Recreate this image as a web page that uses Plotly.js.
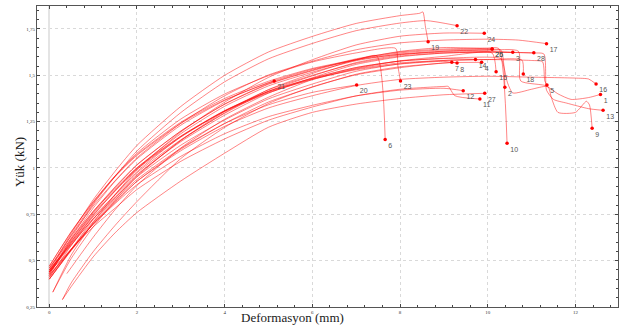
<!DOCTYPE html>
<html>
<head>
<meta charset="utf-8">
<script src="https://cdn.plot.ly/plotly-3.0.1.min.js"></script>
<style>html,body{margin:0;padding:0;background:#fff;}#chart{width:622px;height:327px;}</style>
</head>
<body>
<div id="chart"></div>
<script>
// Load–deformation curves (x: mm, y: kN), one array of [x, y] points per specimen
const s1 = [[0,0.43],[0.5,0.594],[1,0.746],[1.5,0.875],[2,0.992],[3,1.167],[4,1.308],[5,1.413],[6,1.483],[7,1.542],[8,1.577],[9,1.592],[10,1.598],[10.3,1.59],[10.45,1.46],[10.57,1.405],[11,1.425],[11.34,1.44],[11.6,1.40],[11.9,1.37],[12.3,1.38],[12.57,1.397]];
const s2 = [[0,0.45],[0.5,0.593],[1,0.736],[1.5,0.855],[2,0.974],[3,1.152],[4,1.295],[5,1.414],[6,1.497],[7,1.569],[8,1.61],[9,1.63],[10,1.638],[10.3,1.636],[10.39,1.435]];
const s3 = [[0,0.47],[0.5,0.656],[1,0.818],[1.5,0.957],[2,1.073],[3,1.247],[4,1.375],[5,1.468],[6,1.537],[7,1.584],[8,1.613],[9,1.625],[10,1.628],[10.57,1.624]];
const s4 = [[0.3,0.29],[0.5,0.38],[1,0.548],[1.5,0.69],[2,0.819],[3,1.051],[4,1.219],[5,1.348],[6,1.438],[7,1.503],[8,1.541],[9,1.567],[9.86,1.57]];
const s5 = [[0,0.45],[0.5,0.587],[1,0.724],[1.5,0.838],[2,0.952],[3,1.123],[4,1.259],[5,1.373],[6,1.453],[7,1.522],[8,1.562],[9,1.58],[10,1.585],[11,1.58],[11.25,1.573],[11.3,1.47],[11.35,1.448]];
const s6 = [[0,0.42],[0.5,0.614],[1,0.783],[1.5,0.928],[2,1.049],[3,1.231],[4,1.364],[5,1.461],[6,1.533],[7,1.582],[7.47,1.605],[7.66,1.154]];
const s7 = [[0,0.42],[0.5,0.559],[1,0.697],[1.5,0.813],[2,0.928],[3,1.101],[4,1.24],[5,1.356],[6,1.436],[7,1.506],[8,1.546],[9,1.566],[9.18,1.57]];
const s8 = [[0.08,0.33],[0.5,0.53],[1,0.705],[1.5,0.855],[2,0.98],[3,1.168],[4,1.305],[5,1.405],[6,1.48],[7,1.53],[8,1.561],[9,1.575],[9.3,1.566]];
const s9 = [[0,0.41],[0.5,0.582],[1,0.742],[1.5,0.877],[2,1.0],[3,1.185],[4,1.333],[5,1.443],[6,1.517],[7,1.579],[8,1.615],[9,1.63],[10,1.635],[10.7,1.63],[10.75,1.47],[11.37,1.44],[11.45,1.38],[11.6,1.30],[12.0,1.30],[12.25,1.36],[12.32,1.34],[12.38,1.215]];
const s10 = [[0,0.43],[0.5,0.601],[1,0.759],[1.5,0.894],[2,1.016],[3,1.199],[4,1.345],[5,1.455],[6,1.528],[7,1.589],[8,1.626],[9,1.642],[10,1.647],[10.25,1.645],[10.44,1.133]];
const s11 = [[0,0.44],[0.5,0.561],[1,0.682],[1.5,0.783],[2,0.884],[3,1.036],[4,1.157],[5,1.258],[6,1.329],[7,1.389],[8,1.425],[9,1.44],[9.1,1.44],[9.25,1.39],[9.82,1.372]];
const s12 = [[0,0.42],[0.5,0.563],[1,0.695],[1.5,0.808],[2,0.91],[3,1.063],[4,1.185],[5,1.277],[6,1.338],[7,1.389],[8,1.42],[9,1.43],[9.44,1.417]];
const s13 = [[0,0.44],[0.5,0.583],[1,0.726],[1.5,0.845],[2,0.964],[3,1.142],[4,1.285],[5,1.404],[6,1.487],[7,1.559],[8,1.6],[9,1.62],[10,1.626],[11,1.62],[11.28,1.615],[11.34,1.42],[11.5,1.37],[11.8,1.35],[12.3,1.32],[12.63,1.311]];
const s14 = [[0,0.44],[0.5,0.602],[1,0.753],[1.5,0.881],[2,0.997],[3,1.171],[4,1.31],[5,1.414],[6,1.484],[7,1.542],[8,1.577],[9,1.59],[9.72,1.586]];
const s15 = [[0.4,0.43],[1,0.626],[1.5,0.775],[2,0.906],[3,1.108],[4,1.263],[5,1.382],[6,1.477],[7,1.537],[8,1.578],[9,1.602],[10.1,1.62],[10.19,1.519]];
const s16 = [[0,0.40],[0.5,0.554],[1,0.697],[1.5,0.818],[2,0.928],[3,1.093],[4,1.225],[5,1.324],[6,1.39],[7,1.445],[8,1.478],[9,1.49],[10,1.495],[11,1.49],[12,1.485],[12.3,1.48],[12.47,1.453]];
const s17 = [[0,0.46],[0.5,0.634],[1,0.795],[1.5,0.931],[2,1.055],[3,1.241],[4,1.39],[5,1.502],[6,1.576],[7,1.638],[8,1.675],[9,1.69],[10,1.695],[10.7,1.69],[11.34,1.671]];
const s18 = [[0,0.46],[0.5,0.618],[1,0.765],[1.5,0.889],[2,1.002],[3,1.172],[4,1.308],[5,1.409],[6,1.477],[7,1.534],[8,1.567],[9,1.58],[10,1.585],[10.78,1.582],[10.81,1.507]];
const s19 = [[0,0.45],[0.5,0.646],[1,0.828],[1.5,0.982],[2,1.122],[3,1.332],[4,1.50],[5,1.626],[6,1.71],[7,1.78],[8,1.822],[8.45,1.835],[8.52,1.842],[8.58,1.76],[8.64,1.681]];
const s20 = [[0,0.40],[0.5,0.557],[1,0.702],[1.5,0.826],[2,0.938],[3,1.106],[4,1.24],[5,1.341],[6,1.408],[7.01,1.448]];
const s21 = [[0,0.47],[0.5,0.654],[1,0.815],[1.5,0.953],[2,1.068],[3,1.241],[4,1.367],[5,1.459],[5.13,1.469]];
const s22 = [[0,0.43],[0.5,0.623],[1,0.803],[1.5,0.954],[2,1.092],[3,1.299],[4,1.465],[5,1.589],[6,1.672],[7,1.741],[8,1.782],[8.6,1.795],[9.3,1.768]];
const s23 = [[0,0.44],[0.5,0.637],[1,0.809],[1.5,0.957],[2,1.08],[3,1.264],[4,1.399],[5,1.498],[6,1.572],[7,1.621],[7.9,1.645],[7.95,1.55],[8.01,1.469]];
const s24 = [[0,0.40],[0.5,0.561],[1,0.723],[1.5,0.857],[2,0.992],[3,1.194],[4,1.355],[5,1.489],[6,1.584],[7,1.664],[8,1.711],[9,1.728],[9.92,1.727]];
const s25 = [[0,0.44],[0.5,0.609],[1,0.765],[1.5,0.898],[2,1.018],[3,1.199],[4,1.344],[5,1.452],[6,1.525],[7,1.585],[8,1.621],[9,1.637],[10.1,1.642]];
const s26 = [[0,0.41],[0.5,0.56],[1,0.71],[1.5,0.835],[2,0.96],[3,1.148],[4,1.298],[5,1.423],[6,1.51],[7,1.585],[8,1.629],[9,1.65],[10.1,1.642]];
const s27 = [[0.3,0.29],[0.5,0.36],[1,0.52],[1.5,0.65],[2,0.76],[3,0.93],[4,1.08],[5,1.22],[6,1.30],[7,1.345],[8,1.375],[9,1.395],[9.93,1.403]];
const s28 = [[0.08,0.33],[0.5,0.512],[1,0.681],[1.5,0.824],[2,0.954],[3,1.149],[4,1.305],[5,1.422],[6,1.5],[7,1.565],[8,1.604],[9,1.62],[10,1.625],[11.05,1.622]];

const specimens = [s1,s2,s3,s4,s5,s6,s7,s8,s9,s10,s11,s12,s13,s14,s15,s16,s17,s18,s19,s20,s21,s22,s23,s24,s25,s26,s27,s28];
const specimenLabels = ['1','2','3','4','5','6','7','8','9','10','11','12','13','14','15','16','17','18','19','20','21','22','23','24','25','26','27','28'];

const xTickVals = [0,2,4,6,8,10,12];
const xTickText = ['0','2','4','6','8','10','12'];
const yTickVals = [0.25,0.5,0.75,1,1.25,1.5,1.75];
const yTickText = ['0,25','0,5','0,75','1','1,25','1,5','1,75'];

const xTitle = 'Deformasyon (mm)';
const yTitle = 'Yük (kN)';

const traces = specimens.map(pts => ({
  type: 'scatter', mode: 'lines',
  x: pts.map(p => p[0]), y: pts.map(p => p[1]),
  line: {color: 'rgba(255,0,0,0.48)', width: 1, shape: 'spline', smoothing: 0.6},
  hoverinfo: 'skip'
}));

traces.push({
  type: 'scatter', mode: 'markers+text',
  x: specimens.map(pts => pts[pts.length-1][0]),
  y: specimens.map(pts => pts[pts.length-1][1]),
  text: specimenLabels,
  textposition: 'bottom right',
  textfont: {family: 'Liberation Sans, Arial, sans-serif', size: 7, color: '#555'},
  marker: {color: '#ff0000', size: 3.5},
  hoverinfo: 'skip', cliponaxis: false
});

const layout = {
  width: 622, height: 327,
  margin: {l: 37, r: 4, t: 6, b: 20, pad: 0},
  paper_bgcolor: '#ffffff', plot_bgcolor: '#ffffff',
  showlegend: false,
  xaxis: {
    range: [-0.28, 12.97],
    tickmode: 'array', tickvals: xTickVals, ticktext: xTickText,
    ticks: 'inside', ticklen: 3, tickwidth: 1, tickcolor: '#444',
    minor: {tick0: 0, dtick: 0.4, ticks: 'inside', ticklen: 2, tickcolor: '#444', showgrid: false},
    showline: true, linecolor: '#555', linewidth: 1, mirror: 'ticks',
    showgrid: true, gridcolor: '#d9d9d9', griddash: 'dot', gridwidth: 1,
    zeroline: true, zerolinecolor: '#e4e4e4', zerolinewidth: 2,
    tickfont: {family: 'Liberation Serif, serif', size: 5, color: '#333'}
  },
  yaxis: {
    range: [0.25, 1.874],
    tickmode: 'array', tickvals: yTickVals, ticktext: yTickText,
    ticks: 'inside', ticklen: 3, tickwidth: 1, tickcolor: '#444',
    minor: {tick0: 0, dtick: 0.05, ticks: 'inside', ticklen: 2, tickcolor: '#444', showgrid: false},
    showline: true, linecolor: '#555', linewidth: 1, mirror: 'ticks',
    showgrid: true, gridcolor: '#d9d9d9', griddash: 'dot', gridwidth: 1,
    zeroline: false,
    tickfont: {family: 'Liberation Serif, serif', size: 5, color: '#333'}
  },
  annotations: [
    {text: xTitle, xref: 'paper', yref: 'paper', x: 0.439, y: -0.035, xanchor: 'center', yanchor: 'middle',
     showarrow: false, font: {family: 'Liberation Serif, serif', size: 13, color: '#1a1a1a'}},
    {text: yTitle, xref: 'paper', yref: 'paper', x: -0.029, y: 0.482, xanchor: 'center', yanchor: 'middle',
     textangle: -90, showarrow: false, font: {family: 'Liberation Serif, serif', size: 13, color: '#1a1a1a'}}
  ]
};

Plotly.newPlot('chart', traces, layout, {staticPlot: true, displayModeBar: false});
</script>
</body>
</html>
